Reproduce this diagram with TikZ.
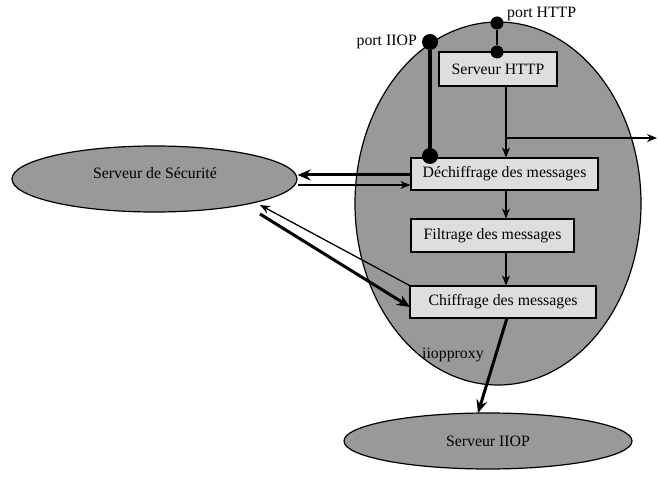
\documentclass[tikz,border=0pt]{standalone}
\usepackage{fontspec}
\setmainfont{Liberation Serif}
\usetikzlibrary{shapes.geometric,arrows.meta}
\definecolor{shellgray}{RGB}{153,153,153}
\definecolor{boxgray}{RGB}{222,222,222}
\tikzset{
  server/.style={ellipse,draw,line width=1.2bp,fill=shellgray,inner sep=0pt},
  stage/.style={rectangle,draw,line width=1.2bp,fill=boxgray,inner sep=0pt},
  portdot/.style={circle,fill=black,inner sep=0pt},
  txt/.style={inner sep=0pt},
  thinflow/.style={line width=1.3bp,-{Stealth[length=10bp,width=8bp]}},
  thickflow/.style={line width=3bp,-{Stealth[length=13bp,width=11bp]}},
}
\begin{document}
\begin{tikzpicture}[x=1bp,y=-1bp,font=\fontsize{15.8bp}{18bp}\selectfont]
\useasboundingbox (0,0) rectangle (658,479);

% proxy shell and the two servers
\node[server,minimum width=286bp,minimum height=363bp] (proxy) at (498,203.5) {};
\node[server,minimum width=285bp,minimum height=66bp] (secu) at (154.5,179) {};
\node[txt] (secutxt) at (155,173) {Serveur de Sécurité};
\node[server,minimum width=288bp,minimum height=56bp] (iiop) at (488,441) {Serveur IIOP};

% processing stages inside the proxy
\node[stage,minimum width=118bp,minimum height=34bp] (http) at (498,69) {Serveur HTTP};
\node[stage,minimum width=187bp,minimum height=32bp] (dech) at (504.5,174) {Déchiffrage des messages};
\node[stage,minimum width=163bp,minimum height=33bp] (filt) at (492.5,235.5) {Filtrage des messages};
\node[stage,minimum width=186bp,minimum height=32bp] (chif) at (503,302) {Chiffrage des messages};
\node[txt,anchor=west] (proxytxt) at (422,355) {iiopproxy};

% ports
\node[portdot,minimum size=16bp] (piiop) at (430,42) {};
\node[portdot,minimum size=16bp] (piiopin) at (430,156) {};
\node[portdot,minimum size=13bp] (phttp) at (497,23) {};
\node[portdot,minimum size=13bp] (phttpin) at (497,52) {};
\node[txt,anchor=east] (piioptxt) at (417,42) {port IIOP};
\node[txt,anchor=west] (phttptxt) at (507,14) {port HTTP};
\draw[line width=4.5bp] (piiop) -- (piiopin);
\draw[line width=2.5bp] (phttp) -- (phttpin);

% internal flow
\coordinate (flowx) at (506,0);
\coordinate (branch) at (506,138);
\coordinate (outside) at (657,138);
\draw[thinflow] (http.south -| flowx) -- (dech.north -| flowx);
\draw[thinflow] (branch) -- (outside);
\draw[thinflow] (dech.south -| flowx) -- (filt.north -| flowx);
\draw[thinflow] (filt.south -| flowx) -- (chif.north -| flowx);
\coordinate (chifout) at (507,318);
\coordinate (iiopin) at (478,413);
\draw[thickflow] (chifout) -- (iiopin);

% exchanges with the security server
\coordinate (ytop) at (0,175);
\coordinate (ybot) at (0,185);
\draw[thickflow] (dech.west |- ytop) -- (secu.east |- ytop);
\draw[thinflow] (secu.east |- ybot) -- (dech.west |- ybot);
\coordinate (secuback) at (260,205);
\coordinate (secuout) at (260,214);
\coordinate (chifin) at (410,307);
\draw[thinflow] (chif.north west) -- (secuback);
\draw[thickflow] (secuout) -- (chifin);
\end{tikzpicture}
\end{document}
